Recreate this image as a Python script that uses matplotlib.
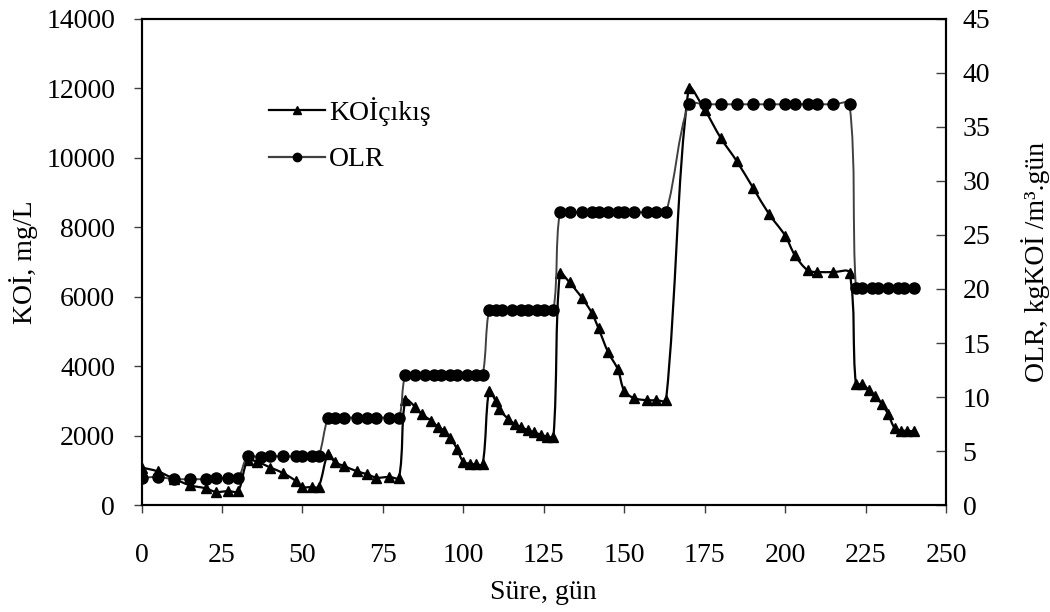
import numpy as np
import matplotlib
matplotlib.use("Agg")
from matplotlib import pyplot as plt
from matplotlib.path import Path
from matplotlib.patches import PathPatch
from matplotlib.lines import Line2D

plt.rcParams['font.family'] = ['Liberation Serif', 'DejaVu Serif']

# KOİ çıkış (mg/L), left axis
koi_days = [0, 5, 10, 15, 20, 23, 27, 30, 33, 36, 40, 44, 48, 50, 53, 55,
            58, 60, 63, 67, 70, 73, 77, 80,
            82, 85, 87, 90, 92, 94, 96, 98, 100, 102, 104, 106,
            108, 110, 111, 114, 116, 118, 120, 122, 124, 126, 128,
            130, 133, 137, 140, 142, 145, 148, 150, 153, 157, 160, 163,
            170, 175, 180, 185, 190, 195, 200, 203, 207, 210, 215, 220,
            222, 224, 226, 228, 230, 232, 234, 236, 238, 240]
koi_vals = [1080, 970, 760, 570, 480, 380, 400, 400, 1290, 1240, 1080, 920, 690, 520, 520, 520,
            1480, 1240, 1120, 970, 890, 790, 810, 790,
            3030, 2830, 2620, 2430, 2260, 2140, 1930, 1620, 1240, 1190, 1170, 1170,
            3290, 3000, 2760, 2480, 2330, 2240, 2160, 2090, 2030, 1970, 1970,
            6670, 6410, 5950, 5520, 5090, 4400, 3910, 3290, 3080, 3020, 3020, 3020,
            12000, 11380, 10570, 9900, 9140, 8380, 7760, 7200, 6760, 6710, 6710, 6690,
            3480, 3480, 3310, 3140, 2910, 2620, 2220, 2140, 2140, 2120]

# OLR (kgKOİ/m3.gün), right axis
olr_days = [0, 5, 10, 15, 20, 23, 27, 30,
            33, 37, 40, 44, 48, 50, 53, 55,
            58, 60, 63, 67, 70, 73, 77, 80,
            82, 85, 88, 91, 93, 96, 98, 101, 104, 106,
            108, 110, 112, 115, 118, 120, 123, 125, 128,
            130, 133, 137, 140, 142, 145, 148, 150, 153, 157, 160, 163,
            170, 175, 180, 185, 190, 195, 200, 203, 207, 210, 215, 220,
            222, 224, 227, 229, 232, 235, 237, 240]
olr_vals = [2.5, 2.6, 2.4, 2.4, 2.4, 2.5, 2.5, 2.5,
            4.5, 4.4, 4.5, 4.5, 4.5, 4.5, 4.5, 4.5,
            8.1, 8.1, 8.1, 8.1, 8.1, 8.1, 8.1, 8.1,
            12.0, 12.0, 12.0, 12.0, 12.0, 12.0, 12.0, 12.0, 12.0, 12.0,
            18.1, 18.1, 18.1, 18.1, 18.1, 18.1, 18.1, 18.1, 18.1,
            27.1, 27.1, 27.1, 27.1, 27.1, 27.1, 27.1, 27.1, 27.1, 27.1, 27.1, 27.1,
            37.1, 37.1, 37.1, 37.1, 37.1, 37.1, 37.1, 37.1, 37.1, 37.1, 37.1, 37.1,
            20.1, 20.1, 20.1, 20.1, 20.1, 20.1, 20.1, 20.1]


def smooth_path(x, y, xspan, yspan):
    # bezier smoothing weighted by segment length (roughly excel's smoothed line)
    sx, sy = 1.0 / xspan, 0.6 / yspan
    p = np.column_stack([np.asarray(x, float) * sx, np.asarray(y, float) * sy])
    n = len(p)
    seg = np.hypot(*np.diff(p, axis=0).T)
    verts = [p[0]]
    codes = [Path.MOVETO]
    for i in range(n - 1):
        # tangent at i
        if i > 0:
            t0 = p[i + 1] - p[i - 1]
            c1 = p[i] + t0 * seg[i] / (seg[i - 1] + seg[i]) / 3.0
        else:
            c1 = p[i]
        if i + 2 < n:
            t1 = p[i + 2] - p[i]
            c2 = p[i + 1] - t1 * seg[i] / (seg[i] + seg[i + 1]) / 3.0
        else:
            c2 = p[i + 1]
        verts += [c1, c2, p[i + 1]]
        codes += [Path.CURVE4] * 3
    verts = np.array(verts)
    verts[:, 0] /= sx
    verts[:, 1] /= sy
    return Path(verts, codes)


fs = 20
fig = plt.figure(figsize=(10.5, 6.12), dpi=100)
ax = fig.add_axes([0.1348, 0.1748, 0.7662, 0.7942])
ax2 = ax.twinx()

ax.add_patch(PathPatch(smooth_path(koi_days, koi_vals, 250, 14000), facecolor='none',
                       edgecolor='black', linewidth=1.6, zorder=3))
ax.plot(koi_days, koi_vals, linestyle='none', marker='^', markersize=7,
        color='black', zorder=4)

ax2.add_patch(PathPatch(smooth_path(olr_days, olr_vals, 250, 45), facecolor='none',
                        edgecolor='#404040', linewidth=1.4, zorder=3))
ax2.plot(olr_days, olr_vals, linestyle='none', marker='o', markersize=8,
         color='black', zorder=4)

ax.set_xlim(0, 250)
ax.set_ylim(0, 14000)
ax2.set_ylim(0, 45)
ax.set_xticks(np.arange(0, 251, 25))
ax.set_yticks(np.arange(0, 14001, 2000))
ax2.set_yticks(np.arange(0, 46, 5))

ax.tick_params(axis='x', labelsize=fs, direction='out', length=6, width=1, colors='#404040',
               labelcolor='black', pad=21)
ax.tick_params(axis='y', labelsize=fs, direction='out', length=6, width=1, colors='#404040',
               labelcolor='black', pad=13)
ax2.tick_params(axis='y', labelsize=fs, direction='in', length=7, width=1, colors='#404040',
                labelcolor='black', pad=12)

for a in (ax, ax2):
    for s in a.spines.values():
        s.set_linewidth(1.5)
        s.set_color('black')

ax.set_xlabel('Süre, gün', fontsize=fs, labelpad=9)
ax.set_ylabel('KOİ, mg/L', fontsize=fs, labelpad=6)
ax2.set_ylabel('OLR, kgKOİ /m³.gün', fontsize=fs, labelpad=22)

handles = [Line2D([], [], color='black', linewidth=1.6, marker='^', markersize=6),
           Line2D([], [], color='#404040', linewidth=1.6, marker='o', markersize=6,
                  markerfacecolor='black', markeredgecolor='black')]
ax2.legend(handles, ['KOİçıkış', 'OLR'], loc='upper left', bbox_to_anchor=(0.145, 0.862),
           frameon=False, fontsize=fs, handlelength=2.0, handletextpad=0.15,
           labelspacing=0.75, borderaxespad=0)

fig.savefig('out.png', dpi=100)
